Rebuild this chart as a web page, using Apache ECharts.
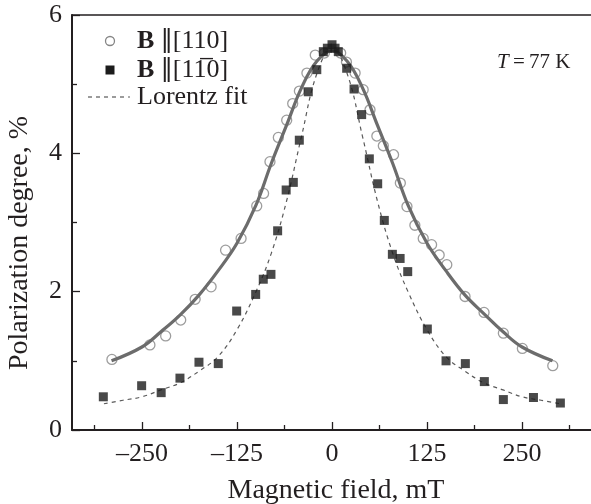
<!DOCTYPE html>
<html>
<head>
<meta charset="utf-8">
<script src="https://cdn.jsdelivr.net/npm/echarts@6/dist/echarts.min.js"></script>
<style>
html,body{margin:0;padding:0;background:#fff;}
#chart{width:591px;height:504px;}
</style>
</head>
<body>
<div id="chart"></div>
<script>
// ---- data ----
const xTickLabels = [-250, -125, 0, 125, 250];
const xMinorTicks = [-312.5, -187.5, -62.5, 62.5, 187.5, 312.5];
const yTickLabels = [0, 2, 4, 6];

// B || [110] : open circles
const circleField = [-289.5, -239.5, -218.8, -199, -180, -159, -140, -119.6, -99, -90, -81.6, -70.6, -59.6, -51.7, -42.9, -33, -22, -10, 11.4, 19, 30.4, 41, 50, 59, 67.5, 81, 89.9, 98.6, 109, 120, 131, 141, 151, 175, 200, 225.4, 250.4, 290.4];
const circlePol   = [1.02, 1.23, 1.36, 1.59, 1.89, 2.07, 2.60, 2.77, 3.24, 3.42, 3.88, 4.23, 4.48, 4.72, 4.90, 5.16, 5.42, 5.45, 5.45, 5.32, 5.16, 4.92, 4.63, 4.25, 4.11, 3.98, 3.57, 3.23, 2.96, 2.77, 2.68, 2.53, 2.39, 1.93, 1.70, 1.40, 1.18, 0.93];

// B || [1-10] : filled squares
const squareField = [-300.8, -250.4, -224.7, -200, -175, -149.6, -125.4, -100.4, -90.4, -80.3, -71.5, -60.3, -50.9, -43, -31.2, -20, -11.4, -6.1, 0, 4, 8.3, 19.3, 29, 39, 49.1, 60.1, 68.8, 79.4, 89.6, 99.6, 125.4, 150, 175.4, 200.4, 225.4, 265, 300.4];
const squarePol   = [0.48, 0.64, 0.54, 0.75, 0.98, 0.96, 1.72, 1.96, 2.18, 2.25, 2.88, 3.47, 3.58, 4.19, 4.89, 5.21, 5.47, 5.52, 5.57, 5.52, 5.47, 5.23, 4.93, 4.56, 3.92, 3.56, 3.03, 2.54, 2.48, 2.29, 1.46, 1.00, 0.96, 0.70, 0.44, 0.47, 0.39];

// solid fit curve through circles
const solidFitField = [-290, -250, -225, -200, -175, -150, -125, -100, -80, -60, -40, -20, 0, 20, 40, 60, 80, 100, 125, 150, 175, 200, 225, 250, 290];
const solidFitPol   = [1.00, 1.20, 1.42, 1.66, 1.95, 2.30, 2.70, 3.25, 3.85, 4.40, 4.95, 5.33, 5.48, 5.33, 4.95, 4.40, 3.85, 3.25, 2.70, 2.30, 1.95, 1.68, 1.42, 1.20, 1.00];

// dashed Lorentz fit through squares
const dashFitField = [-300, -275, -250, -225, -200, -175, -150, -125, -100, -80, -60, -40, -20, 0, 20, 40, 60, 80, 100, 125, 150, 175, 200, 225, 250, 275, 300];
const dashFitPol   = [0.38, 0.43, 0.48, 0.58, 0.68, 0.85, 1.06, 1.45, 2.00, 2.55, 3.30, 4.25, 5.15, 5.52, 5.15, 4.25, 3.30, 2.55, 2.00, 1.45, 1.06, 0.85, 0.68, 0.58, 0.48, 0.43, 0.38];

// texts
const legendCircleText = '{b|B} {p|\u2016}[110]';
const legendSquareText = '{b|B} {p|\u2016}[11\u03050]';
const legendFitText = 'Lorentz fit';
const tempText = '{i|T}\u2009=\u200977 K';
const xTitle = 'Magnetic field, mT';
const yTitle = 'Polarization degree, %';

function pairs(xs, ys){ return xs.map((x,i)=>[x, ys[i]]); }

const FONT = '"Liberation Serif", "Times New Roman", serif';
const INK = '#231f20';
const CIRCLE_COL = '#858585';
const SQUARE_COL = '#1c1c1c';
const SOLID_COL = '#6c6c6c';
const DASH_COL = '#5a5a5a';

const chart = echarts.init(document.getElementById('chart'), null, {renderer:'canvas'});
const dashMinus = v => (v < 0 ? '\u2013' + Math.abs(v) : String(v));

const legendRich = {
  b: {fontFamily: FONT, fontSize: 26, fontWeight: 'bold', fill: INK},
  p: {fontFamily: '"DejaVu Sans"', fontSize: 24, fill: INK}
};

const option = {
  animation: false,
  backgroundColor: '#fff',
  grid: {left: 72, right: -1, top: 15, bottom: 74, containLabel: false, outerBoundsMode: 'none'},
  xAxis: [
    {
      type: 'value', min: -342, max: 342, position: 'bottom',
      axisLine: {show: true, onZero: false, lineStyle: {color: INK, width: 2}},
      axisTick: {show: true, inside: true, length: 8, customValues: xTickLabels, lineStyle: {color: INK, width: 1.3}},
      axisLabel: {show: true, customValues: xTickLabels, formatter: dashMinus, margin: 11,
        fontFamily: FONT, fontSize: 26, color: INK},
      splitLine: {show: false},
      name: xTitle, nameLocation: 'middle', nameGap: 47,
      nameTextStyle: {fontFamily: FONT, fontSize: 28, color: INK, padding: [0, 0, 0, 8]}
    },
    {
      type: 'value', min: -342, max: 342, position: 'bottom',
      axisLine: {show: false, onZero: false},
      axisTick: {show: true, inside: true, length: 5, customValues: xMinorTicks, lineStyle: {color: INK, width: 1.3}},
      axisLabel: {show: false},
      splitLine: {show: false}
    },
    {
      type: 'value', min: -342, max: 342, position: 'top',
      axisLine: {show: true, onZero: false, lineStyle: {color: INK, width: 1.5}},
      axisTick: {show: false}, axisLabel: {show: false}, splitLine: {show: false}
    }
  ],
  yAxis: {
    type: 'value', min: 0, max: 6, interval: 2, position: 'left',
    axisLine: {show: true, onZero: false, lineStyle: {color: INK, width: 2}},
    axisTick: {show: true, inside: true, length: 8, lineStyle: {color: INK, width: 1.3}},
    minorTick: {show: true, splitNumber: 2, length: 5, lineStyle: {color: INK, width: 1.3}},
    axisLabel: {margin: 10, fontFamily: FONT, fontSize: 26, color: INK,
      customValues: yTickLabels},
    splitLine: {show: false}, minorSplitLine: {show: false}
  },
  graphic: [
    // y axis title
    {type: 'text', x: 20, y: 243, rotation: Math.PI / 2,
     style: {text: yTitle, fontFamily: FONT, fontSize: 28, fill: INK, align: 'center', verticalAlign: 'middle'}},
    // legend
    {type: 'circle', shape: {cx: 110, cy: 41, r: 4.5}, style: {fill: 'transparent', stroke: CIRCLE_COL, lineWidth: 1.3}},
    {type: 'rect', shape: {x: 105.5, y: 65.5, width: 9, height: 9}, style: {fill: SQUARE_COL}},
    {type: 'line', shape: {x1: 88, y1: 97, x2: 130, y2: 97}, style: {stroke: DASH_COL, lineWidth: 1.2, lineDash: [4, 4]}},
    {type: 'text', x: 137, y: 41, style: {text: legendCircleText, fontFamily: FONT, fontSize: 26, fill: INK, verticalAlign: 'middle', rich: legendRich}},
    {type: 'text', x: 137, y: 70, style: {text: legendSquareText, fontFamily: FONT, fontSize: 26, fill: INK, verticalAlign: 'middle', rich: legendRich}},
    {type: 'text', x: 137, y: 97, style: {text: legendFitText, fontFamily: FONT, fontSize: 26, fill: INK, verticalAlign: 'middle'}},
    // temperature annotation
    {type: 'text', x: 497, y: 62,
     style: {text: tempText, fontFamily: FONT, fontSize: 21, fill: INK, verticalAlign: 'middle',
       rich: {i: {fontStyle: 'italic', fontFamily: FONT, fontSize: 21, fill: INK}}}}
  ],
  series: [
    {
      name: 'B110', type: 'scatter', data: pairs(circleField, circlePol),
      symbol: 'circle', symbolSize: 10, z: 2,
      itemStyle: {color: 'rgba(255,255,255,0)', borderColor: CIRCLE_COL, borderWidth: 1.3}
    },
    {
      name: 'solidFit', type: 'line', data: pairs(solidFitField, solidFitPol),
      smooth: 0.4, symbol: 'none', z: 3,
      lineStyle: {color: SOLID_COL, width: 3.2}
    },
    {
      name: 'B1m10', type: 'scatter', data: pairs(squareField, squarePol),
      symbol: 'rect', symbolSize: 9, z: 4,
      itemStyle: {color: SQUARE_COL}
    },
    {
      name: 'Lorentz fit', type: 'line', data: pairs(dashFitField, dashFitPol),
      smooth: 0.4, symbol: 'none', z: 3,
      lineStyle: {color: DASH_COL, width: 1.2, type: [4, 4]}
    }
  ]
};
chart.setOption(option);
</script>
</body>
</html>
